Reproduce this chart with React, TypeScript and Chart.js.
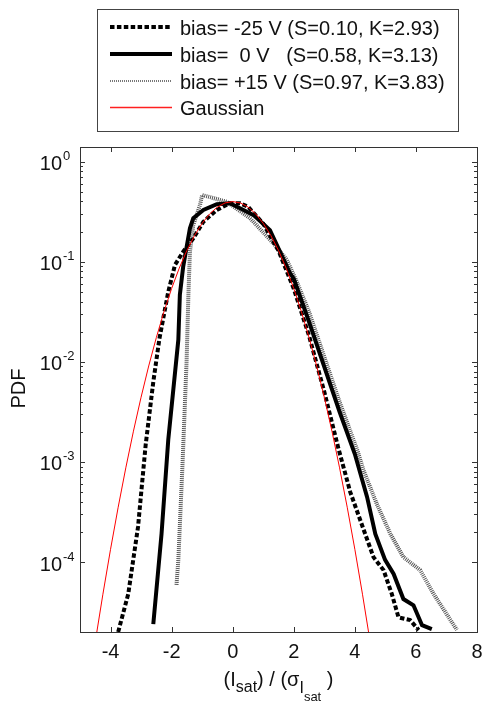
import React, { useEffect, useRef } from "react";
import { Chart, registerables } from "chart.js";

Chart.register(...registerables);

const FONT = '"Liberation Sans", Arial, Helvetica, sans-serif';

// ---- tick labels ----
const xTickValues = [-4, -2, 0, 2, 4, 6, 8];
const xTickLabels = ["-4", "-2", "0", "2", "4", "6", "8"];
const yDecadeExponents = [0, -1, -2, -3, -4];
const yDecadeLabels = ["0", "-1", "-2", "-3", "-4"];

// ---- legend labels ----
const seriesLabels = [
  "bias= -25 V (S=0.10, K=2.93)",
  "bias=  0 V   (S=0.58, K=3.13)",
  "bias= +15 V (S=0.97, K=3.83)",
  "Gaussian",
];

// ---- series: bias = -25 V (dashed) ----
const xNeg25 = [-3.75, -3.42, -3.1, -2.85, -2.6, -2.4, -2.11, -1.89, -1.62, -1.29, -0.96, -0.52, -0.09, 0.24, 0.5, 1.0, 1.5, 2.0, 2.5, 3.0, 3.45, 3.85, 4.28, 4.61, 4.94, 5.21, 5.43, 5.81, 6.09];
const pdfNeg25 = [2.0e-5, 4.8e-5, 2.24e-4, 1.48e-3, 6.3e-3, 1.7e-2, 5.0e-2, 9.3e-2, 0.126, 0.171, 0.251, 0.329, 0.384, 0.384, 0.355, 0.24, 0.129, 0.0537, 0.0182, 0.00501, 1.41e-3, 5.0e-4, 2.14e-4, 1.12e-4, 8.3e-5, 4.8e-5, 2.8e-5, 2.63e-5, 2.09e-5];

// ---- series: bias = 0 V (solid) ----
const x0V = [-2.6, -2.33, -2.11, -1.78, -1.73, -1.62, -1.4, -1.29, -0.96, -0.52, -0.09, 0.24, 0.7, 1.22, 1.88, 2.0, 2.5, 3.0, 3.5, 4.0, 4.4, 4.67, 4.99, 5.27, 5.59, 5.92, 6.2, 6.52];
const pdf0V = [2.4e-5, 1.91e-4, 1.66e-3, 1.66e-2, 4.68e-2, 9.0e-2, 0.216, 0.272, 0.329, 0.375, 0.384, 0.342, 0.29, 0.207, 0.0766, 0.0676, 0.0251, 0.00891, 0.00316, 0.0012, 4.47e-4, 1.91e-4, 1.05e-4, 7.6e-5, 4.27e-5, 3.7e-5, 2.34e-5, 2.14e-5];

// ---- series: bias = +15 V (dotted gray) ----
const xPos15 = [-1.84, -1.78, -1.64, -1.51, -1.45, -1.4, -1.29, -1.07, -1.0, -0.2, 0.57, 1.33, 1.77, 2.1, 2.5, 3.0, 3.5, 4.1, 4.28, 4.72, 5.16, 5.59, 6.14, 6.58, 7.34];
const pdfPos15 = [5.9e-5, 1.05e-4, 1.0e-3, 1.0e-2, 4.7e-2, 0.126, 0.233, 0.369, 0.464, 0.398, 0.272, 0.153, 0.105, 0.063, 0.0316, 0.0112, 0.00398, 0.00126, 8.3e-4, 3.8e-4, 1.92e-4, 1.12e-4, 8.3e-5, 4.8e-5, 2.1e-5];

// ---- series: Gaussian (red) ----
const xGauss = [-4.5, -4.25, -4.0, -3.75, -3.5, -3.25, -3.0, -2.75, -2.5, -2.25, -2.0, -1.75, -1.5, -1.25, -1.0, -0.75, -0.5, -0.25, 0, 0.25, 0.5, 0.75, 1.0, 1.25, 1.5, 1.75, 2.0, 2.25, 2.5, 2.75, 3.0, 3.25, 3.5, 3.75, 4.0, 4.25, 4.5];
const pdfGauss = [1.6e-5, 4.77e-5, 1.34e-4, 3.53e-4, 8.73e-4, 2.03e-3, 4.43e-3, 9.09e-3, 1.75e-2, 3.17e-2, 5.4e-2, 8.63e-2, 0.1295, 0.1826, 0.242, 0.3011, 0.3521, 0.3867, 0.3989, 0.3867, 0.3521, 0.3011, 0.242, 0.1826, 0.1295, 8.63e-2, 5.4e-2, 3.17e-2, 1.75e-2, 9.09e-3, 4.43e-3, 2.03e-3, 8.73e-4, 3.53e-4, 1.34e-4, 4.77e-5, 1.6e-5];

const toPoints = (xs: number[], ys: number[]) => xs.map((x, i) => ({ x, y: ys[i] }));

const DASH = [4.5, 2.4];
const DOT = [1, 1];

const decorPlugin = {
  id: "decor",
  afterDatasetsDraw(chart: any) {
    const ctx: CanvasRenderingContext2D = chart.ctx;
    const { left, right, top, bottom } = chart.chartArea;
    const xs = chart.scales.x;
    const ys = chart.scales.y;
    ctx.save();
    // frame
    ctx.strokeStyle = "#333";
    ctx.lineWidth = 1;
    ctx.setLineDash([]);
    ctx.strokeRect(Math.round(left) + 0.5, Math.round(top) + 0.5, Math.round(right - left), Math.round(bottom - top));
    // x ticks (inward, top and bottom)
    ctx.beginPath();
    xTickValues.forEach((v) => {
      const px = Math.round(xs.getPixelForValue(v)) + 0.5;
      ctx.moveTo(px, bottom);
      ctx.lineTo(px, bottom - 5);
      ctx.moveTo(px, top);
      ctx.lineTo(px, top + 5);
    });
    // y ticks major + minor
    const yMin = ys.min;
    const yMax = ys.max;
    yDecadeExponents.forEach((e) => {
      for (let m = 1; m <= 9; m++) {
        const v = m * Math.pow(10, e);
        if (v < yMin || v > yMax) continue;
        const py = Math.round(ys.getPixelForValue(v)) + 0.5;
        const len = m === 1 ? 5 : 3;
        ctx.moveTo(left, py);
        ctx.lineTo(left + len, py);
        ctx.moveTo(right, py);
        ctx.lineTo(right - len, py);
      }
    });
    ctx.stroke();

    // x tick labels
    ctx.fillStyle = "#111";
    ctx.font = `20px ${FONT}`;
    ctx.textAlign = "center";
    ctx.textBaseline = "alphabetic";
    xTickValues.forEach((v, i) => {
      ctx.fillText(xTickLabels[i], xs.getPixelForValue(v), bottom + 26);
    });
    // y tick labels 10^e
    yDecadeExponents.forEach((e, i) => {
      const py = ys.getPixelForValue(Math.pow(10, e));
      ctx.font = `20px ${FONT}`;
      ctx.textAlign = "right";
      ctx.fillText("10", 62, py + 8.5);
      ctx.font = `13px ${FONT}`;
      ctx.textAlign = "left";
      ctx.fillText(yDecadeLabels[i], 63, py - 1.5);
    });
    // y title
    ctx.save();
    ctx.translate(25, (top + bottom) / 2 - 1);
    ctx.rotate(-Math.PI / 2);
    ctx.font = `20px ${FONT}`;
    ctx.textAlign = "center";
    ctx.fillText("PDF", 0, 0);
    ctx.restore();

    // x title with subscripts: (I_sat) / (σ_I_sat )
    const parts: [string, number, number][] = [
      ["(I", 20, 0],
      ["sat", 16, 6],
      [") / (\u03c3", 20, 0],
      ["I", 16, 7],
      ["sat", 13, 15],
      [" )", 20, 0],
    ];
    ctx.textAlign = "left";
    let total = 0;
    parts.forEach(([t, s]) => {
      ctx.font = `${s}px ${FONT}`;
      total += ctx.measureText(t).width;
    });
    let cx = (left + right) / 2 - total / 2;
    const base = 686;
    parts.forEach(([t, s, dy]) => {
      ctx.font = `${s}px ${FONT}`;
      ctx.fillText(t, cx, base + dy);
      cx += ctx.measureText(t).width;
    });

    // legend box
    const lx = 97.5, ly = 9.5, lw = 361, lh = 122;
    ctx.fillStyle = "#fff";
    ctx.fillRect(lx, ly, lw, lh);
    ctx.strokeStyle = "#444";
    ctx.lineWidth = 1;
    ctx.strokeRect(lx, ly, lw, lh);
    const rows = [27, 54, 81, 107.5];
    const styles = [
      { color: "#000", width: 4, dash: DASH },
      { color: "#000", width: 4, dash: [] as number[] },
      { color: "#777", width: 2, dash: DOT },
      { color: "#ff2020", width: 1.3, dash: [] as number[] },
    ];
    rows.forEach((ry, i) => {
      const st = styles[i];
      ctx.beginPath();
      ctx.strokeStyle = st.color;
      ctx.lineWidth = st.width;
      ctx.setLineDash(st.dash);
      ctx.moveTo(110, ry);
      ctx.lineTo(172, ry);
      ctx.stroke();
      ctx.setLineDash([]);
      ctx.fillStyle = "#111";
      ctx.font = `20px ${FONT}`;
      ctx.textAlign = "left";
      ctx.fillText(seriesLabels[i], 180, ry + 7.7);
    });
    ctx.restore();
  },
};

export default function App() {
  const canvasRef = useRef<HTMLCanvasElement | null>(null);

  useEffect(() => {
    if (!canvasRef.current) return;
    const chart = new Chart(canvasRef.current, {
      type: "line",
      data: {
        datasets: [
          {
            label: seriesLabels[3],
            data: toPoints(xGauss, pdfGauss),
            borderColor: "#ff0000",
            borderWidth: 1,
            order: 0,
          },
          {
            label: seriesLabels[0],
            data: toPoints(xNeg25, pdfNeg25),
            borderColor: "#000",
            borderWidth: 4,
            borderDash: DASH,
            order: 1,
          },
          {
            label: seriesLabels[1],
            data: toPoints(x0V, pdf0V),
            borderColor: "#000",
            borderWidth: 4,
            order: 2,
          },
          {
            label: seriesLabels[2],
            data: toPoints(xPos15, pdfPos15),
            borderColor: "#555",
            borderWidth: 4,
            borderDash: DOT,
            order: 3,
          },
        ] as any,
      },
      options: {
        responsive: false,
        animation: false,
        events: [],
        layout: { padding: { left: 80, right: 5, top: 147, bottom: 70 } },
        elements: {
          point: { radius: 0, hoverRadius: 0 },
          line: { tension: 0, fill: false, borderJoinStyle: "miter" },
        },
        datasets: { line: { clip: 0 } } as any,
        plugins: {
          legend: { display: false },
          tooltip: { enabled: false },
        },
        scales: {
          x: { type: "linear", min: -5, max: 8, display: false },
          y: { type: "logarithmic", min: 2.0e-5, max: 1.4, display: false },
        },
      },
      plugins: [decorPlugin],
    });
    return () => chart.destroy();
  }, []);

  return (
    <div style={{ position: "absolute", left: 0, top: 0, width: 482, height: 702, background: "#fff" }}>
      <canvas ref={canvasRef} width={482} height={702} style={{ width: 482, height: 702, display: "block" }} />
    </div>
  );
}
